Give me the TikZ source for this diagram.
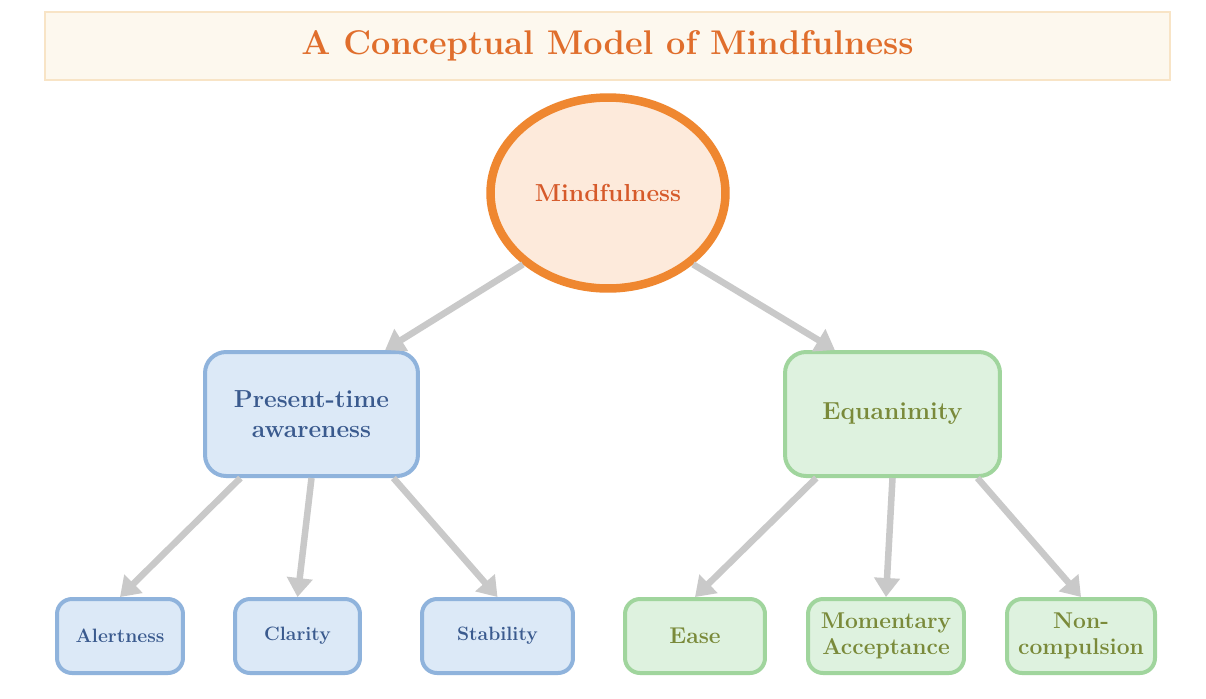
\documentclass[tikz,border=0pt]{standalone}
\usepackage{tikz}
\usetikzlibrary{shapes.geometric,arrows.meta}

\definecolor{titre}{HTML}{E06E2C}
\definecolor{fondtitre}{HTML}{FDF8EE}
\definecolor{bordtitre}{HTML}{F8E4C6}
\definecolor{fondcercle}{HTML}{FDEADB}
\definecolor{bordcercle}{HTML}{EF8730}
\definecolor{textecercle}{HTML}{D65A2A}
\definecolor{fondbleu}{HTML}{DCE9F7}
\definecolor{bordbleu}{HTML}{8FB3DC}
\definecolor{textebleu}{HTML}{3A5A8E}
\definecolor{fondvert}{HTML}{DEF2DF}
\definecolor{bordvert}{HTML}{A0D59D}
\definecolor{textevert}{HTML}{7A8A3A}
\definecolor{gris}{HTML}{C9C9C9}

\begin{document}
\begin{tikzpicture}[x=0.02cm, y=-0.02cm,
		fleche/.style={-{Triangle[length=0.38cm,width=0.5cm]}, line width=0.13cm, draw=gris},
		bleu/.style={draw=bordbleu, fill=fondbleu, text=textebleu, line width=0.08cm, align=center, inner sep=0pt},
		vert/.style={draw=bordvert, fill=fondvert, text=textevert, line width=0.08cm, align=center, inner sep=0pt}]

		% cadre de l image
		\fill[white] (0, 0) rectangle (1206, 698);
		\useasboundingbox (0, 0) rectangle (1206, 698);

		% bandeau du titre
		\node[draw=bordtitre, fill=fondtitre, line width=0.04cm, minimum width=22.5cm, minimum height=1.36cm, text=titre, font=\fontsize{19.5}{24}\selectfont\bfseries] (titre) at (607.5, 46) {A Conceptual Model of Mindfulness};

		% cercle central
		\node[ellipse, draw=bordcercle, fill=fondcercle, line width=0.17cm, minimum width=4.7cm, minimum height=3.82cm, inner sep=0pt, text=textecercle, font=\fontsize{14}{17}\selectfont\bfseries] (mind) at (608, 193) {Mindfulness};

		% deux branches
		\node[bleu, rounded corners=0.42cm, minimum width=4.26cm, minimum height=2.48cm, font=\fontsize{14}{17}\selectfont\bfseries] (pta) at (311.5, 414) {Present-time\\awareness};
		\node[vert, rounded corners=0.42cm, minimum width=4.3cm, minimum height=2.48cm, font=\fontsize{14}{17}\selectfont\bfseries] (equa) at (892.5, 414) {Equanimity};

		% feuilles bleues
		\node[bleu, rounded corners=0.3cm, minimum width=2.52cm, minimum height=1.48cm, font=\fontsize{11}{13}\selectfont\bfseries] (alert) at (120, 636) {Alertness};
		\node[bleu, rounded corners=0.3cm, minimum width=2.5cm, minimum height=1.48cm, font=\fontsize{11}{13}\selectfont\bfseries] (clar) at (297.5, 636) {Clarity};
		\node[bleu, rounded corners=0.3cm, minimum width=3.02cm, minimum height=1.48cm, font=\fontsize{11}{13}\selectfont\bfseries] (stab) at (497.5, 636) {Stability};

		% feuilles vertes
		\node[vert, rounded corners=0.3cm, minimum width=2.8cm, minimum height=1.48cm, font=\fontsize{13}{14.5}\selectfont\bfseries] (ease) at (695, 636) {Ease};
		\node[vert, rounded corners=0.3cm, minimum width=3.12cm, minimum height=1.48cm, font=\fontsize{13}{14.5}\selectfont\bfseries] (mom) at (886, 636) {Momentary\\Acceptance};
		\node[vert, rounded corners=0.3cm, minimum width=2.96cm, minimum height=1.48cm, font=\fontsize{13}{14.5}\selectfont\bfseries] (noncomp) at (1081, 636) {Non-\\compulsion};

		% fleches du cercle
		\draw[fleche] (mind.220) -- (pta.41);
		\draw[fleche] (mind.320) -- (equa.132);

		% fleches bleues
		\draw[fleche] (pta.222) -- (alert.north);
		\draw[fleche] (pta.south) -- (clar.north);
		\draw[fleche] (pta.322) -- (stab.north);

		% fleches vertes
		\draw[fleche] (equa.220) -- (ease.north);
		\draw[fleche] (equa.south) -- (mom.north);
		\draw[fleche] (equa.323) -- (noncomp.north);

		\end{tikzpicture}
\end{document}
